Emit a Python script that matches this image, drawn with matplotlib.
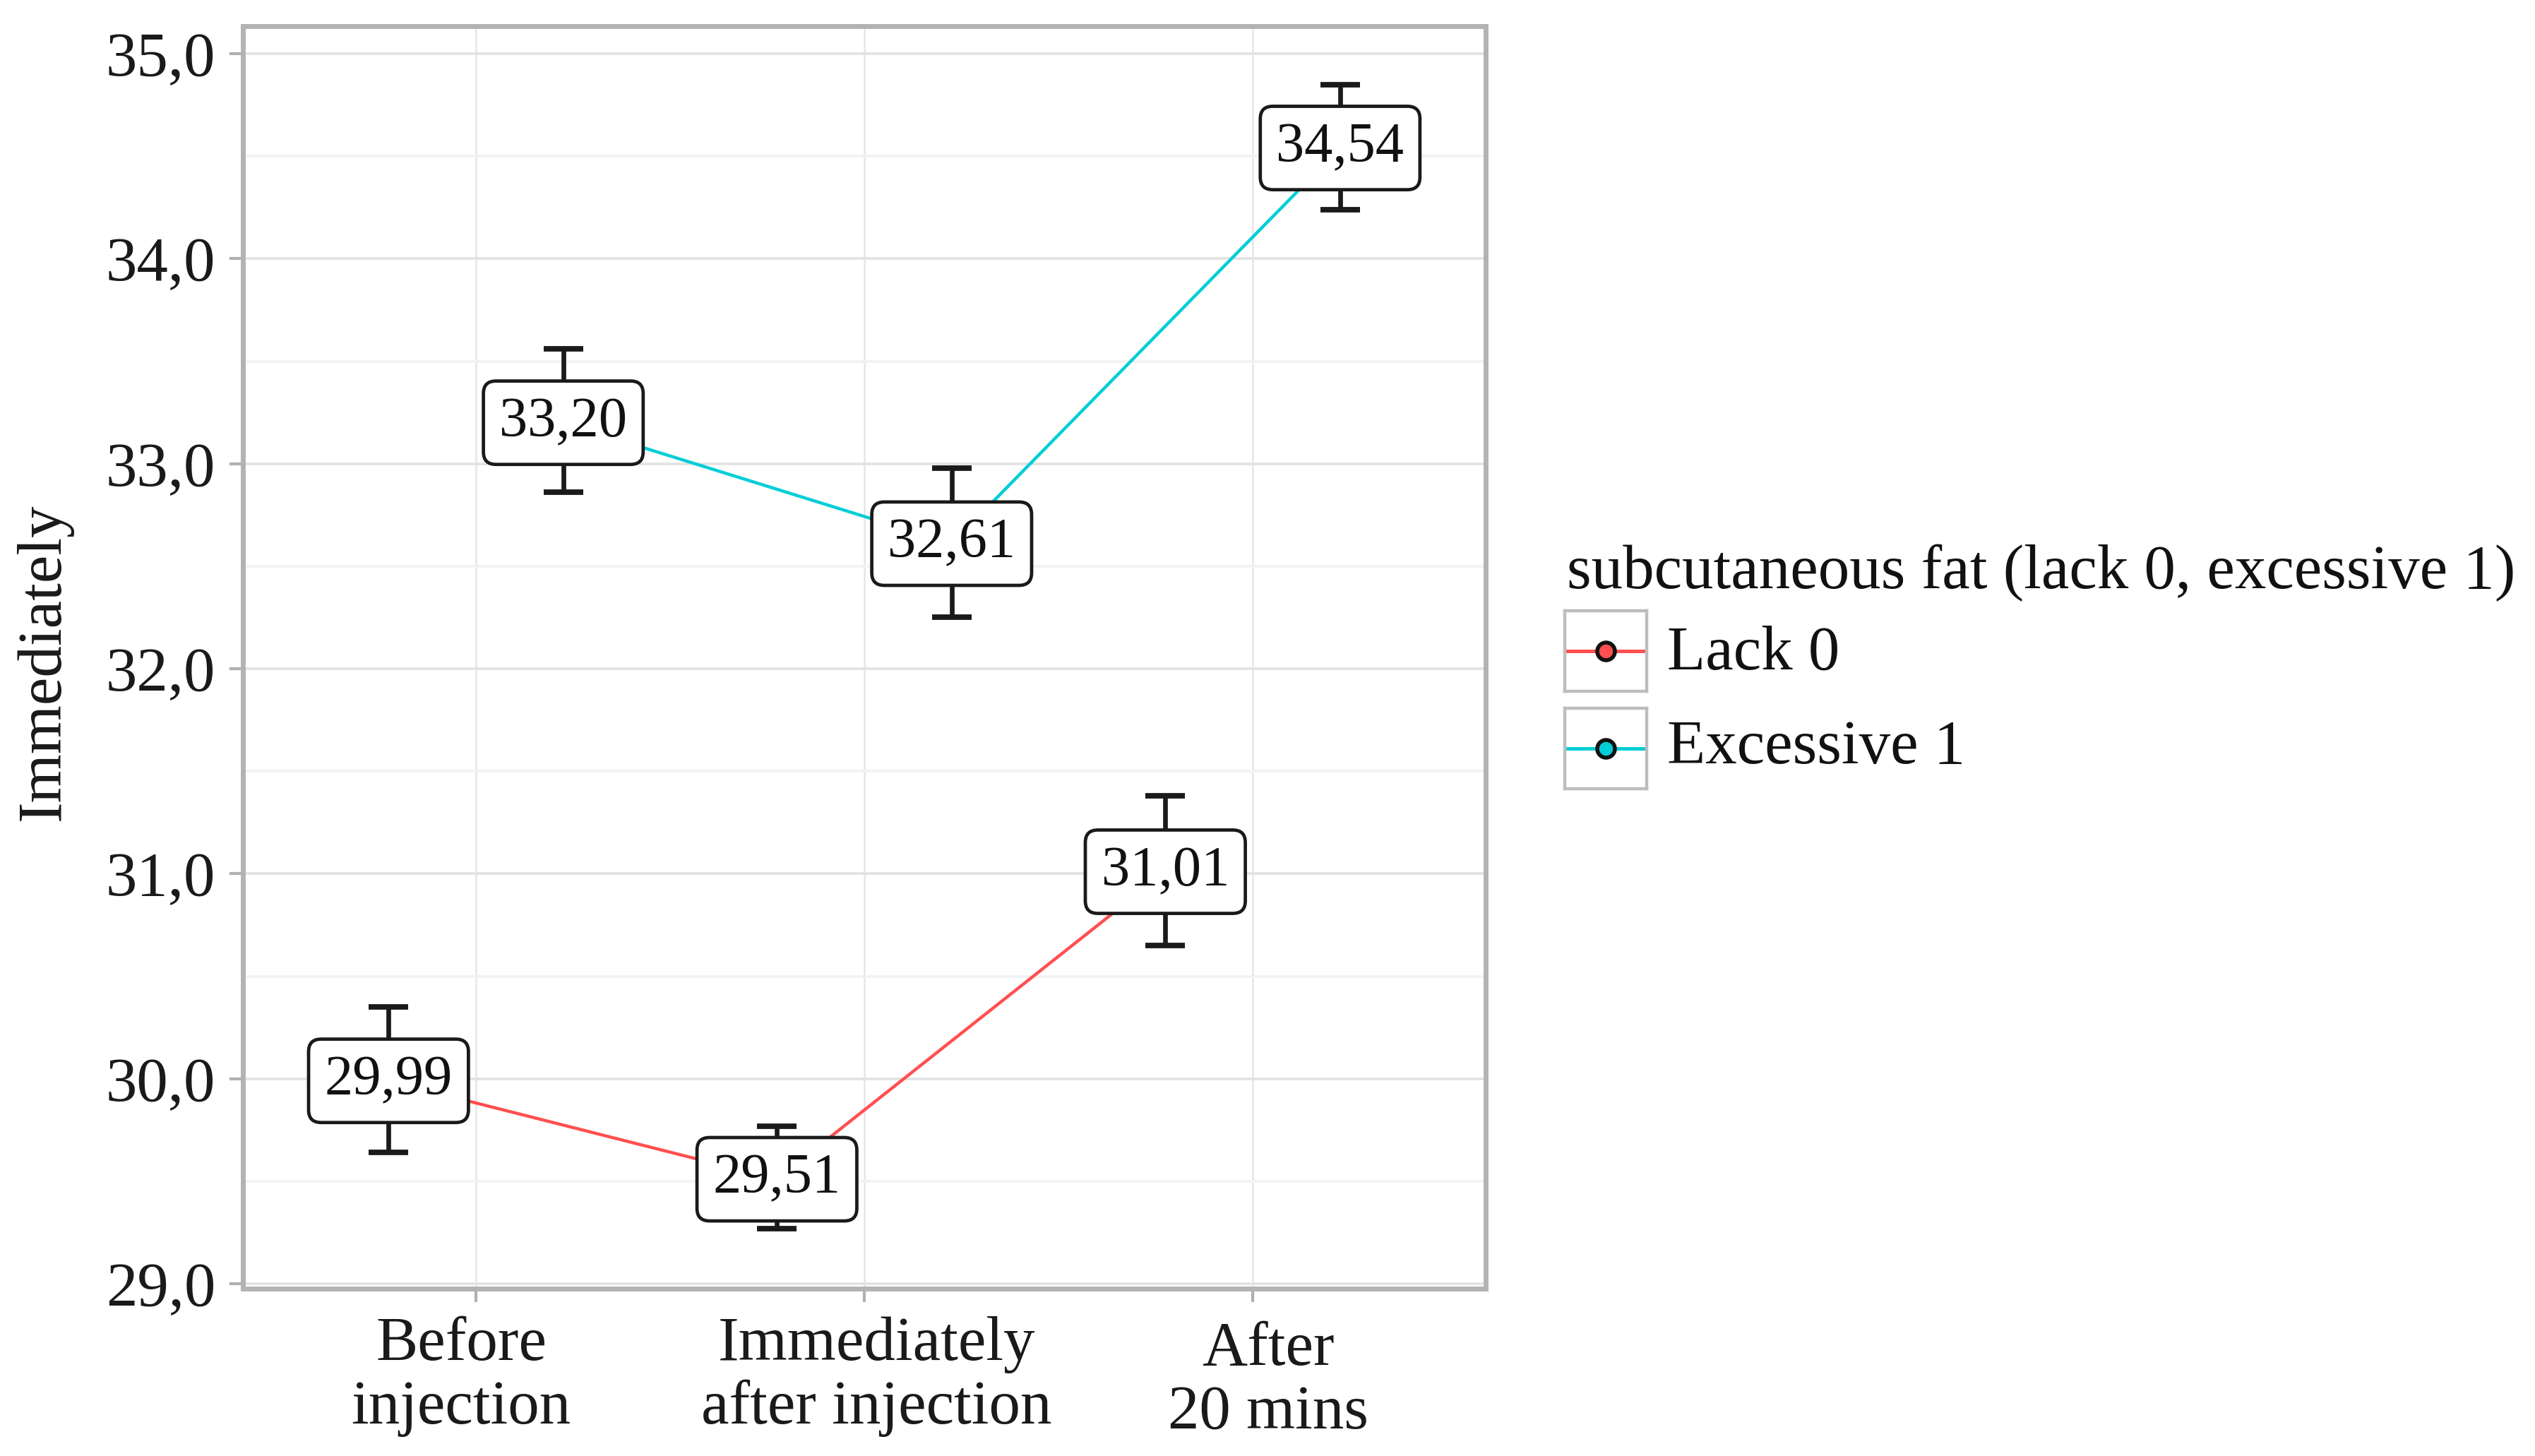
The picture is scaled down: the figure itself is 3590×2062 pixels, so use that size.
import numpy as np
import matplotlib
matplotlib.use('Agg')
import matplotlib.pyplot as plt
from matplotlib.transforms import ScaledTranslation

plt.rcParams['font.family'] = ['Liberation Serif', 'DejaVu Serif']

# data
categories = ['Before\ninjection', 'Immediately\nafter injection', 'After\n20 mins']
lack_mean = [29.99, 29.51, 31.01]
lack_low = [29.64, 29.27, 30.65]
lack_high = [30.35, 29.77, 31.38]
exc_mean = [33.20, 32.61, 34.54]
exc_low = [32.86, 32.25, 34.24]
exc_high = [33.56, 32.98, 34.85]
yticks = [29.0, 30.0, 31.0, 32.0, 33.0, 34.0, 35.0]
legend_title = 'subcutaneous fat (lack 0, excessive 1)'
series_names = ['Lack 0', 'Excessive 1']

red = '#ff4f4f'
cyan = '#00ced6'
dodge = 0.225


def comma(v, nd):
    return f'{v:.{nd}f}'.replace('.', ',')


fig = plt.figure(figsize=(17.95, 10.31), dpi=200)
ax = fig.add_axes([0.0958, 0.1149, 0.4903, 0.8671])

x = np.arange(len(categories))
series = [
    (x - dodge, lack_mean, lack_low, lack_high, red),
    (x + dodge, exc_mean, exc_low, exc_high, cyan),
]
for xs, m, lo, hi, col in series:
    m = np.array(m)
    ax.plot(xs, m, '-', color=col, lw=1.6, zorder=3)
    ax.errorbar(xs, m, yerr=[m - np.array(lo), np.array(hi) - m], fmt='none',
                ecolor='#1a1a1a', elinewidth=2.4, capsize=10, capthick=2.8, zorder=4)
    for xi, v in zip(xs, m):
        ax.text(xi, v, comma(v, 2), ha='center', va='center', fontsize=29,
                color='#111111', zorder=6,
                bbox=dict(boxstyle='round,pad=0.28,rounding_size=0.22',
                          fc='white', ec='#1a1a1a', lw=1.7))

ax.set_xlim(-0.6, 2.6)
ax.set_ylim(28.976, 35.134)
ax.set_xticks(x)
ax.set_xticklabels(categories, fontsize=32, linespacing=1.14)
ax.set_yticks(yticks)
ax.set_yticklabels([comma(v, 1) for v in yticks], fontsize=32)
ax.set_yticks(np.array(yticks[:-1]) + 0.5, minor=True)
ax.tick_params(axis='both', which='major', direction='out', length=7, width=1.5,
               color='#b0b0b0', labelcolor='#1a1a1a')
ax.tick_params(axis='x', pad=7)
ax.tick_params(axis='y', pad=7)
ax.tick_params(axis='y', which='minor', length=0)

# the category labels sit a little off their ticks in the original
for lab, (dx, dy) in zip(ax.get_xticklabels(), [(-21, 0), (17, 0), (22, -7)]):
    lab.set_transform(lab.get_transform() + ScaledTranslation(dx / 200, dy / 200, fig.dpi_scale_trans))

ax.grid(axis='y', which='major', color='#e2e2e2', lw=1.3, zorder=0)
ax.grid(axis='y', which='minor', color='#f2f2f2', lw=1.3, zorder=0)
ax.grid(axis='x', which='major', color='#e6e6e6', lw=0.9, zorder=0)
ax.set_axisbelow(True)
for s in ax.spines.values():
    s.set_color('#b3b3b3')
    s.set_linewidth(2.5)

ax.set_ylabel('Immediately', fontsize=32, color='#1a1a1a', va='center')
ax.yaxis.set_label_coords(-0.160, 0.4966)

# legend drawn by hand: framed key boxes like the original
fig.text(0.6181, 0.5961, legend_title, fontsize=32, va='baseline', ha='left', color='#111111')
key_y = [0.5252, 0.4583]
text_y = [0.5407, 0.4757]
for name, col, ky, ty in zip(series_names, [red, cyan], key_y, text_y):
    kax = fig.add_axes([0.6173, ky, 0.0323, 0.0553])
    kax.set_xlim(0, 1)
    kax.set_ylim(0, 1)
    kax.plot([0, 1], [0.5, 0.5], '-', color=col, lw=1.8)
    kax.plot([0.5], [0.5], 'o', color=col, markersize=9, mec='#111111', mew=2)
    kax.set_xticks([])
    kax.set_yticks([])
    for s in kax.spines.values():
        s.set_color('#bdbdbd')
        s.set_linewidth(1.6)
    fig.text(0.6577, ty, name, fontsize=32, va='baseline', ha='left', color='#111111')

fig.savefig('out.png', dpi=200, facecolor='white')
